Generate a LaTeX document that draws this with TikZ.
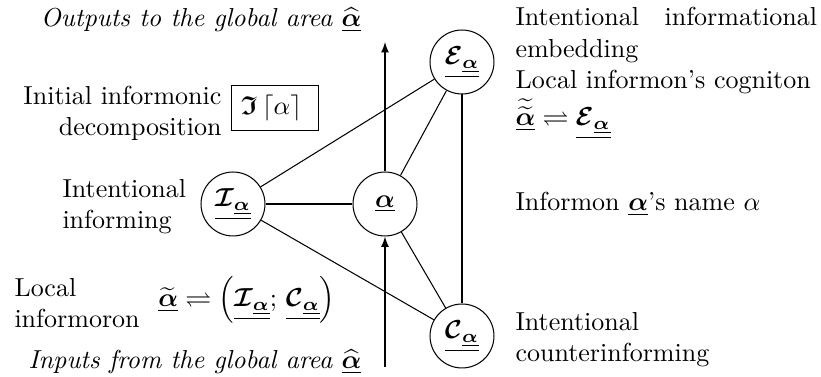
\documentclass[tikz,border=0pt]{standalone}
\usepackage{amsmath}
\usepackage{amssymb}
\usepackage{tikz}
\tikzset{inf/.style={draw,circle,minimum size=24.6pt,inner sep=0.5pt},
    lbl/.style={inner sep=0pt},
    }
\newcommand{\ba}{\underline{\boldsymbol\alpha}}
\newcommand{\sub}[1]{\underline{\boldsymbol{\mathcal #1}_{\ba}}}

\begin{document}
\begin{tikzpicture}[x=0.3846pt,y=-0.3846pt]
\useasboundingbox (0,0) rectangle (821,377);
% the informon and its three parts
\node[inf] (a) at (385,204) {$\ba$};
\node[inf] (i) at (233,204) {$\sub{I}$};
\node[inf] (e) at (462,62) {$\sub{E}$};
\node[inf] (c) at (462,336) {$\sub{C}$};

\draw (i) -- (a);
\draw (i) -- (e);
\draw (i) -- (c);
\draw (a) -- (e);
\draw (a) -- (c);
\draw (e) -- (c);

% global in- and outputs
\coordinate (top) at (385,42);
\coordinate (bot) at (385,367);
\draw[-latex] (a) -- (top);
\draw[-latex] (bot) -- (a);
\node[lbl,anchor=east] (out) at (362,20) {\itshape Outputs to the global area $\widehat{\ba}$};
\node[lbl,anchor=east] (in) at (362,362) {\itshape Inputs from the global area $\widehat{\ba}$};

% left side
\node[lbl,align=right,anchor=east] (dec) at (222,113) {Initial informonic\\decomposition};
\node[draw,inner sep=3.5pt] (frak) at (275,108) {$\boldsymbol{\mathfrak{I}}\,\lceil\alpha\rceil\;$};
\node[lbl,align=left,anchor=west] (inf) at (62,207) {Intentional\\informing};
\node[lbl,align=left,anchor=west] (loc) at (14,303) {Local\\informoron};
\node[lbl,anchor=east] (mor) at (336,300) {$\widetilde{\ba}\rightleftharpoons\left(\sub{I};\,\sub{C}\right)$};

% right side
\node[lbl,text width=116pt,align=justify,anchor=north west] (emb) at (515,7)
    {Intentional informational embedding\\Local informon's cogniton\\[1pt]
    $\widetilde{\widetilde{\ba}}\rightleftharpoons\sub{E}$};
\node[lbl,anchor=west] (nam) at (515,204) {Informon $\ba$'s name $\alpha$};
\node[lbl,align=left,anchor=west] (cnt) at (515,340) {Intentional\\counterinforming};
\end{tikzpicture}
\end{document}
